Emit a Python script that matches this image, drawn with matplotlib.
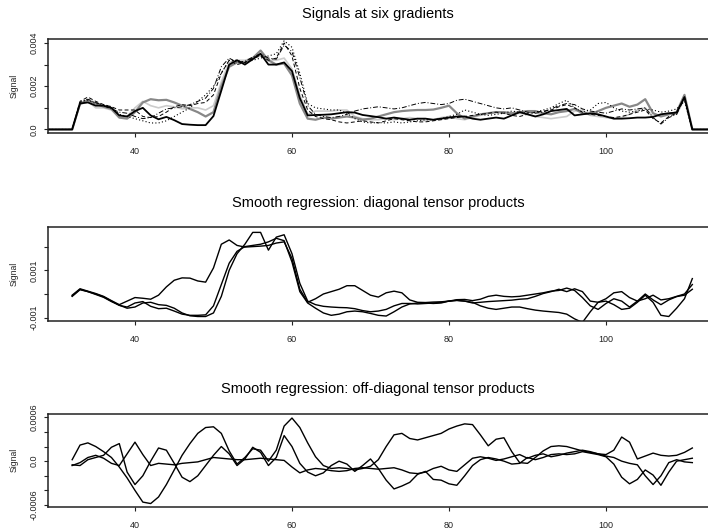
import numpy as np
import matplotlib
matplotlib.use("Agg")
import matplotlib.pyplot as plt

plt.rcParams["font.family"] = ["Liberation Sans", "DejaVu Sans"]

# ---- top panel: raw signals (units of 1e-3), x = 29..113
x_raw = np.arange(29, 114)

sig_black = [0, 0, 0, 0,
    1.2, 1.25, 1.1, 1.1, 1.0, 0.65, 0.6, 0.85, 1.0, 0.65, 0.47, 0.58, 0.43, 0.25, 0.22, 0.2, 0.2, 0.62,
    1.8, 3.0, 3.2, 3.0, 3.25, 3.5, 3.0, 3.0, 3.1, 2.7, 1.45, 0.65, 0.67, 0.68, 0.7, 0.75, 0.8, 0.78,
    0.67, 0.62, 0.57, 0.5, 0.55, 0.5, 0.45, 0.5, 0.5, 0.45, 0.5, 0.55, 0.6, 0.6, 0.5, 0.45, 0.5, 0.55,
    0.5, 0.65, 0.8, 0.7, 0.6, 0.7, 0.85, 0.9, 0.95, 0.65, 0.7, 0.75, 0.7, 0.6, 0.5, 0.5, 0.52, 0.55,
    0.55, 0.58, 0.7, 0.75, 0.78, 1.5, 0, 0, 0]
sig_gray = [0, 0, 0, 0,
    1.2, 1.35, 1.2, 1.05, 0.95, 0.55, 0.5, 0.8, 1.25, 1.4, 1.35, 1.37, 1.25, 1.1, 0.95, 0.8, 0.6, 0.8,
    2.0, 2.9, 3.1, 3.1, 3.3, 3.65, 3.2, 3.0, 3.05, 2.5, 1.2, 0.5, 0.45, 0.55, 0.5, 0.55, 0.6, 0.55,
    0.45, 0.5, 0.6, 0.7, 0.8, 0.85, 0.88, 0.9, 0.9, 0.92, 1.0, 1.1, 0.75, 0.5, 0.6, 0.7, 0.75, 0.8,
    0.8, 0.75, 0.8, 0.85, 0.85, 0.75, 0.7, 0.8, 0.85, 0.95, 0.75, 0.7, 0.85, 1.0, 1.1, 1.2, 1.05, 1.15,
    1.4, 0.75, 0.6, 0.7, 0.8, 1.6, 0, 0, 0]
sig_light = [0, 0, 0, 0,
    1.15, 1.3, 1.0, 1.0, 0.9, 0.55, 0.6, 1.0, 1.3, 1.1, 1.0, 1.1, 1.05, 0.95, 1.0, 1.0, 0.9, 1.1,
    2.2, 3.1, 3.2, 3.2, 3.3, 3.4, 3.2, 3.2, 3.3, 2.8, 1.6, 0.7, 0.85, 0.85, 0.85, 0.9, 0.9, 0.6,
    0.5, 0.45, 0.45, 0.5, 0.45, 0.5, 0.55, 0.5, 0.4, 0.45, 0.55, 0.6, 0.5, 0.45, 0.55, 0.65, 0.75, 0.8,
    0.75, 0.7, 0.75, 0.7, 0.6, 0.55, 0.5, 0.55, 0.6, 0.85, 0.9, 0.65, 0.6, 0.55, 0.5, 0.55, 0.7, 0.9,
    1.0, 0.6, 0.7, 0.75, 0.7, 1.4, 0, 0, 0]
sig_dash = [0, 0, 0, 0,
    1.3, 1.5, 1.3, 1.15, 1.05, 0.9, 0.9, 0.9, 0.6, 0.55, 0.6, 0.8, 1.05, 1.15, 1.1, 1.2, 1.25, 1.6,
    2.6, 3.2, 3.0, 3.1, 3.3, 3.4, 3.2, 3.3, 4.0, 3.4, 1.9, 0.9, 0.6, 0.5, 0.45, 0.35, 0.3, 0.35,
    0.4, 0.35, 0.3, 0.4, 0.5, 0.45, 0.4, 0.35, 0.35, 0.4, 0.45, 0.5, 0.55, 0.6, 0.65, 0.7, 0.75, 0.8,
    0.75, 0.65, 0.6, 0.7, 0.8, 0.85, 0.9, 1.05, 1.15, 1.0, 0.8, 0.7, 0.65, 0.6, 0.55, 0.6, 0.7, 0.8,
    0.9, 0.5, 0.3, 0.6, 0.75, 1.5, 0, 0, 0]
sig_dashdot = [0, 0, 0, 0,
    1.25, 1.4, 1.25, 1.1, 0.95, 0.8, 0.75, 0.6, 0.5, 0.55, 0.75, 0.95, 1.0, 1.05, 1.15, 1.3, 1.45, 1.9,
    2.9, 3.3, 3.1, 3.15, 3.35, 3.5, 3.3, 3.25, 3.9, 3.6, 2.4, 1.1, 0.7, 0.6, 0.55, 0.6, 0.7, 0.85,
    0.95, 1.0, 1.05, 1.0, 0.95, 1.0, 1.1, 1.2, 1.25, 1.2, 1.15, 1.2, 1.35, 1.4, 1.3, 1.2, 1.1, 1.0,
    0.95, 1.0, 0.9, 0.8, 0.75, 0.8, 0.95, 1.1, 1.2, 1.15, 0.95, 0.85, 0.8, 0.75, 0.85, 0.95, 0.9, 0.95,
    1.0, 0.55, 0.25, 0.55, 0.7, 1.45, 0, 0, 0]
sig_dot = [0, 0, 0, 0,
    1.3, 1.35, 1.2, 1.15, 1.05, 0.7, 0.6, 0.5, 0.4, 0.3, 0.3, 0.4, 0.6, 0.8, 1.0, 1.3, 1.6, 2.0,
    2.6, 3.2, 3.2, 3.1, 3.2, 3.3, 3.4, 3.5, 4.1, 3.8, 2.6, 1.2, 1.0, 0.95, 0.9, 0.9, 0.75, 0.5,
    0.35, 0.3, 0.32, 0.3, 0.35, 0.3, 0.35, 0.4, 0.45, 0.45, 0.5, 0.6, 0.7, 0.9, 0.8, 0.7, 0.65, 0.7,
    0.75, 0.85, 0.8, 0.75, 0.8, 0.9, 1.0, 1.2, 1.35, 1.0, 0.8, 0.9, 1.2, 1.25, 1.0, 0.85, 0.8, 0.85,
    0.95, 0.9, 0.8, 0.85, 0.95, 1.3, 0, 0, 0]

# ---- middle panel: diagonal tensor products (units of 1e-3), x = 32..111
x_fit = np.arange(32, 112)

diag_a = [-0.05, 0.22, 0.12, 0.02, -0.1, -0.28, -0.45, -0.3, -0.15, -0.18, -0.22, -0.05, 0.3, 0.58,
    0.68, 0.67, 0.55, 0.5, 1.1, 2.1, 2.28, 2.05, 1.98, 2.0, 2.02, 2.05, 2.15, 2.2, 1.5, 0.2, -0.35,
    -0.2, 0.0, 0.1, 0.2, 0.35, 0.35, 0.15, -0.05, -0.13, 0.05, 0.12, 0.05, -0.25, -0.35, -0.36, -0.34,
    -0.33, -0.3, -0.24, -0.23, -0.28, -0.22, -0.1, -0.05, -0.1, -0.12, -0.1, -0.05, 0.0, 0.05, 0.12,
    0.15, 0.25, 0.15, -0.15, -0.5, -0.65, -0.4, -0.2, -0.3, -0.55, -0.3, 0.0, -0.25, -0.45, -0.25,
    -0.11, -0.05, 0.2]
diag_b = [-0.08, 0.2, 0.1, 0.0, -0.12, -0.3, -0.48, -0.55, -0.38, -0.32, -0.52, -0.62, -0.6, -0.72,
    -0.85, -0.9, -0.9, -0.88, -0.5, 0.4, 1.3, 1.8, 2.0, 2.05, 2.1, 2.2, 2.35, 2.25, 1.35, 0.1, -0.38,
    -0.6, -0.8, -0.9, -0.85, -0.75, -0.72, -0.75, -0.82, -0.9, -0.93, -0.75, -0.55, -0.42, -0.38,
    -0.38, -0.4, -0.38, -0.3, -0.27, -0.3, -0.35, -0.5, -0.6, -0.65, -0.6, -0.55, -0.55, -0.62, -0.68,
    -0.72, -0.75, -0.78, -0.85, -1.05, -1.2, -0.75, -0.35, -0.3, -0.45, -0.65, -0.6, -0.35, -0.05,
    -0.35, -0.9, -0.95, -0.6, -0.2, 0.65]
diag_c = [-0.1, 0.18, 0.1, -0.02, -0.14, -0.32, -0.47, -0.6, -0.55, -0.38, -0.35, -0.45, -0.48, -0.6,
    -0.8, -0.92, -0.95, -0.95, -0.8, -0.1, 1.0, 1.7, 2.1, 2.6, 2.6, 1.85, 2.4, 2.5, 1.7, 0.45, -0.3,
    -0.45, -0.52, -0.55, -0.57, -0.58, -0.62, -0.7, -0.75, -0.72, -0.65, -0.5, -0.4, -0.4, -0.42,
    -0.4, -0.38, -0.35, -0.3, -0.27, -0.3, -0.38, -0.35, -0.32, -0.3, -0.28, -0.26, -0.22, -0.2, -0.1,
    0.02, 0.1, 0.2, 0.1, 0.22, 0.1, -0.3, -0.35, -0.2, 0.05, 0.1, -0.15, -0.3, -0.2, -0.05, -0.25,
    -0.2, -0.1, 0.0, 0.4]

# ---- bottom panel: off-diagonal tensor products (units of 1e-4), x = 32..111
off_a = [0.2, 2.2, 2.5, 2.0, 1.3, 0.5, -0.8, -2.3, -4.0, -5.6, -5.8, -4.9, -3.2, -1.2, 0.8, 2.4, 3.8,
    4.6, 4.7, 3.8, 1.4, -0.4, 0.5, 1.7, 1.5, 0.0, 1.5, 4.8, 5.9, 4.6, 2.5, 0.6, -0.6, -1.0, -0.9, -1.0,
    -1.2, -1.0, -0.7, 0.2, 2.0, 3.6, 3.8, 3.1, 2.9, 3.2, 3.5, 3.8, 4.4, 4.8, 5.1, 5.0, 3.6, 2.1, 3.0,
    3.2, 1.3, -0.2, -0.3, 0.5, 1.4, 2.0, 2.1, 2.0, 1.7, 1.4, 1.2, 1.0, 0.9, 1.5, 3.3, 2.6, 0.3, 0.7,
    1.1, 0.8, 0.7, 0.8, 1.2, 1.8]
off_b = [-0.5, -0.6, 0.2, 0.5, 0.8, 1.9, 2.4, -1.5, -3.2, -2.0, 0.0, 1.8, 1.5, -0.3, -2.2, -2.8, -2.0,
    -0.6, 0.8, 2.0, 1.0, -0.6, 0.3, 1.9, 1.2, -0.6, 0.5, 3.5, 2.0, -0.3, -1.5, -2.0, -1.6, -0.6, 0.0,
    -0.4, -1.4, -0.6, 0.3, -1.0, -2.6, -3.8, -3.4, -2.9, -1.8, -1.4, -2.5, -2.6, -3.1, -3.3, -2.0,
    -0.6, 0.2, 0.5, 0.3, 0.0, -0.4, -0.3, 0.5, 0.2, 0.5, 0.9, 1.0, 0.9, 1.0, 1.3, 1.1, 0.9, 0.6, -0.4,
    -2.2, -3.1, -2.5, -1.2, -1.9, -3.3, -1.5, 0.0, 0.2, 0.4]
off_c = [-0.6, -0.2, 0.5, 0.8, 0.4, -0.3, -0.6, 1.0, 2.6, 0.9, -0.6, -0.3, -0.4, -0.5, -0.3, -0.2,
    -0.1, 0.2, 0.5, 0.4, 0.3, 0.2, 0.2, 0.3, 0.4, 0.3, 0.2, 0.1, -0.8, -1.6, -1.2, -1.0, -1.1, -1.3,
    -1.4, -1.3, -1.0, -0.9, -1.0, -1.1, -1.0, -0.9, -1.2, -1.6, -1.7, -1.5, -1.0, -0.7, -1.2, -1.4,
    -0.5, 0.4, 0.6, 0.4, 0.1, 0.3, 0.6, 0.9, 0.4, 0.8, 1.0, 0.6, 0.8, 1.1, 1.3, 1.5, 1.3, 1.0, 0.7,
    0.5, 0.0, -0.3, -0.5, -2.0, -3.2, -2.0, -0.2, 0.2, -0.1, -0.2]

W, H = 708, 529
fig = plt.figure(figsize=(W / 100, H / 100), dpi=100)


def make_axes(top_px, bottom_px):
    # axes run past the right edge, as in the cropped original
    ax = fig.add_axes([48 / W, 1 - bottom_px / H, 690 / W, (bottom_px - top_px) / H])
    ax.set_xlim(28.92, 28.92 + 690 / 7.85)
    for side in ["left", "top", "bottom"]:
        ax.spines[side].set_linewidth(1.1)
        ax.spines[side].set_color("#222222")
    ax.spines["right"].set_visible(False)
    ax.set_xticks([40, 60, 80, 100])
    ax.tick_params(axis="both", direction="out", length=3, width=0.8, colors="#222222",
                   labelsize=6.5)
    ax.tick_params(axis="x", pad=7.5)
    ax.tick_params(axis="y", pad=4)
    for lab in ax.get_yticklabels():
        pass
    return ax


def finish_y(ax, ticks, labels, top_px, bottom_px):
    ax.set_yticks(ticks, labels)
    for lab in ax.get_yticklabels():
        lab.set_rotation(90)
        lab.set_va("center")
    fig.text(13.7 / W, 1 - (top_px + bottom_px) / 2 / H, "Signal", rotation=90,
             ha="center", va="center", fontsize=6.2, color="#222222")


def title(text, y_px):
    fig.text(378 / W, 1 - y_px / H, text, ha="center", va="center", fontsize=10.5)


# top panel
ax1 = make_axes(39.3, 132.7)
k = 1e-3
ax1.plot(x_raw, np.array(sig_light) * k, color="#cccccc", lw=1.2)
ax1.plot(x_raw, np.array(sig_gray) * k, color="#888888", lw=1.6)
ax1.plot(x_raw, np.array(sig_dash) * k, color="black", lw=0.7, dashes=(4, 2.5))
ax1.plot(x_raw, np.array(sig_dashdot) * k, color="black", lw=0.7, dashes=(5, 2, 1, 2))
ax1.plot(x_raw, np.array(sig_dot) * k, color="black", lw=0.8, dashes=(1, 2))
ax1.plot(x_raw, np.array(sig_black) * k, color="black", lw=1.3)
ax1.set_ylim(-0.00015, 0.00417)
finish_y(ax1, [0, 0.001, 0.002, 0.003, 0.004], ["0.0", "", "0.002", "", "0.004"], 39.3, 132.7)
title("Signals at six gradients", 14)

# middle panel
ax2 = make_axes(226.7, 320.7)
for s in (diag_a, diag_b, diag_c):
    ax2.plot(x_fit, np.array(s) * 1e-3, color="black", lw=1.0)
ax2.set_ylim(-0.001127, 0.00284)
finish_y(ax2, [-0.001, 0, 0.001, 0.002], ["-0.001", "", "0.001", ""], 226.7, 320.7)
title("Smooth regression: diagonal tensor products", 202.7)

# bottom panel
ax3 = make_axes(414, 506.7)
for s in (off_a, off_b, off_c):
    ax3.plot(x_fit, np.array(s) * 1e-4, color="black", lw=1.0)
ax3.set_ylim(-0.000623, 0.000645)
finish_y(ax3, [-0.0006, -0.0004, -0.0002, 0, 0.0002, 0.0004, 0.0006],
         ["-0.0006", "", "", "0.0", "", "", "0.0006"], 414, 506.7)
title("Smooth regression: off-diagonal tensor products", 389.3)

fig.savefig("out.png", dpi=100)
